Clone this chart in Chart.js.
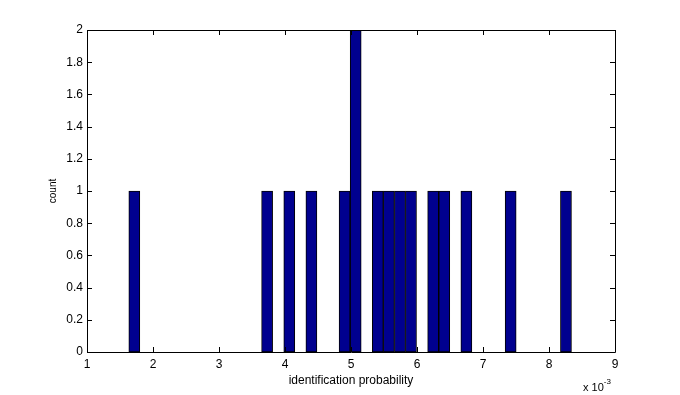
<!DOCTYPE html>
<html>
<head>
<meta charset="utf-8">
<script src="https://cdn.jsdelivr.net/npm/chart.js@4/dist/chart.umd.min.js"></script>
<style>
  html, body { margin: 0; padding: 0; background: #fff; }
  #wrap { width: 680px; height: 395px; }
</style>
</head>
<body>
<div id="wrap"><canvas id="c"></canvas></div>
<script>
// histogram bins (x in units of 1e-3)
var binCenters = [1.717, 3.729, 4.065, 4.400, 4.903, 5.071, 5.406, 5.574, 5.742, 5.909, 6.245, 6.413, 6.748, 7.419, 8.257];
var counts     = [1,     1,     1,     1,     1,     2,     1,     1,     1,     1,     1,     1,     1,     1,     1];

var xTicks = [1, 2, 3, 4, 5, 6, 7, 8, 9];
var yTicks = [0, 0.2, 0.4, 0.6, 0.8, 1, 1.2, 1.4, 1.6, 1.8, 2];

var FONT = '"Liberation Sans", Arial, sans-serif';

var pts = [];
for (var i = 0; i < binCenters.length; i++) pts.push({ x: binCenters[i], y: counts[i] });

// matlab style box + ticks pointing inward
var boxPlugin = {
    id: 'box',
    afterDraw: function (chart) {
        var ctx = chart.ctx, a = chart.chartArea;
        var sx = chart.scales.x, sy = chart.scales.y;
        var L = 5;
        ctx.save();
        ctx.strokeStyle = '#000';
        ctx.lineWidth = 1;
        ctx.beginPath();
        ctx.rect(Math.round(a.left) + 0.5, Math.round(a.top) + 0.5,
                 Math.round(a.right - a.left), Math.round(a.bottom - a.top));
        for (var i = 0; i < xTicks.length; i++) {
            var px = Math.round(sx.getPixelForValue(xTicks[i])) + 0.5;
            ctx.moveTo(px, a.bottom); ctx.lineTo(px, a.bottom - L);
            ctx.moveTo(px, a.top); ctx.lineTo(px, a.top + L);
        }
        for (var j = 0; j < yTicks.length; j++) {
            var py = Math.round(sy.getPixelForValue(yTicks[j])) + 0.5;
            ctx.moveTo(a.left, py); ctx.lineTo(a.left + L, py);
            ctx.moveTo(a.right, py); ctx.lineTo(a.right - L, py);
        }
        ctx.stroke();

        // exponent label
        ctx.fillStyle = '#000';
        ctx.textBaseline = 'alphabetic';
        ctx.font = '11px ' + FONT;
        ctx.fillText('x 10', 583, 391);
        var w = ctx.measureText('x 10').width;
        ctx.font = '8px ' + FONT;
        ctx.fillText('-3', 583 + w, 384);
        ctx.restore();
    }
};

new Chart(document.getElementById('c'), {
    type: 'bar',
    data: {
        datasets: [{
            data: pts,
            backgroundColor: '#00008f',
            borderColor: '#000000',
            borderWidth: 1,
            borderSkipped: false,
            barPercentage: 1,
            categoryPercentage: 1
        }]
    },
    options: {
        responsive: true,
        maintainAspectRatio: false,
        animation: false,
        layout: { padding: { left: 45, top: 30, right: 65, bottom: 3 } },
        plugins: { legend: { display: false }, tooltip: { enabled: false } },
        scales: {
            x: {
                type: 'linear', min: 1, max: 9, offset: false,
                afterFit: function (s) { s.height = 40; },
                afterBuildTicks: function (s) { s.ticks = xTicks.map(function (v) { return { value: v }; }); },
                grid: { display: false, drawTicks: false },
                border: { display: false },
                ticks: { color: '#000', padding: 5, maxRotation: 0, font: { family: FONT, size: 12 } },
                title: { display: true, text: 'identification probability', color: '#000',
                         padding: { top: 0, bottom: 4 }, font: { family: FONT, size: 12 } }
            },
            y: {
                min: 0, max: 2,
                afterFit: function (s) { s.width = 42; },
                afterBuildTicks: function (s) { s.ticks = yTicks.map(function (v) { return { value: v }; }); },
                grid: { display: false, drawTicks: false },
                border: { display: false },
                ticks: {
                    color: '#000', padding: 4, font: { family: FONT, size: 12 },
                    callback: function (v) { return String(+Number(v).toFixed(1)); }
                },
                title: { display: true, text: 'count', color: '#000',
                         padding: { top: 2, bottom: 0 }, font: { family: FONT, size: 10 } }
            }
        }
    },
    plugins: [boxPlugin]
});
</script>
</body>
</html>
